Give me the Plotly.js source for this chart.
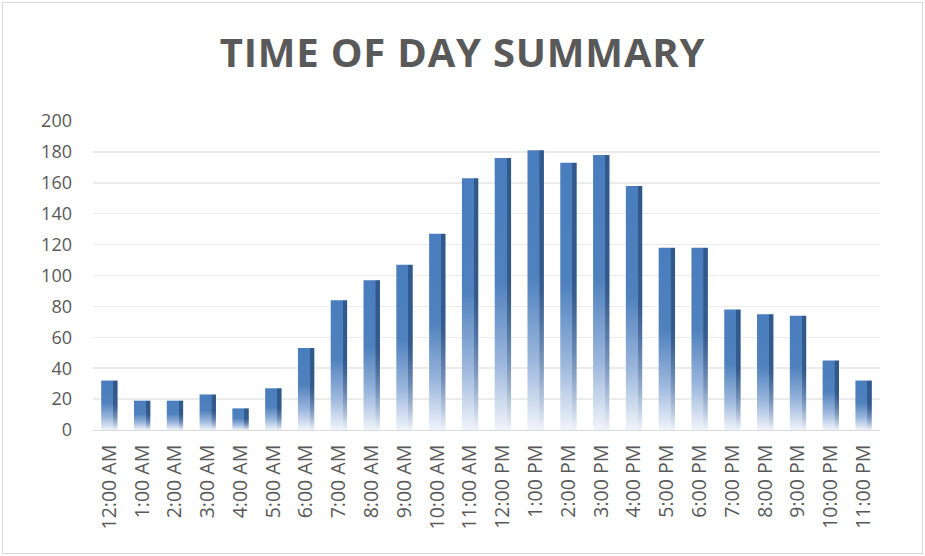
<!DOCTYPE html>
<html><head><meta charset="utf-8">
<script src="https://cdn.plot.ly/plotly-3.0.1.min.js"></script>
<style>
html,body{margin:0;padding:0;background:#fff;}
#frame{position:absolute;left:2px;top:2px;width:921px;height:552px;border:1px solid #d9d9d9;box-sizing:border-box;}
#chart{position:absolute;left:0;top:0;width:925px;height:556px;}
</style>
</head><body>
<div id="frame"></div>
<div id="chart"></div>
<script>
const categories = ["12:00 AM","1:00 AM","2:00 AM","3:00 AM","4:00 AM","5:00 AM","6:00 AM","7:00 AM","8:00 AM","9:00 AM","10:00 AM","11:00 AM","12:00 PM","1:00 PM","2:00 PM","3:00 PM","4:00 PM","5:00 PM","6:00 PM","7:00 PM","8:00 PM","9:00 PM","10:00 PM","11:00 PM"];
const counts = [32,19,19,23,14,27,53,84,97,107,127,163,176,181,173,178,158,118,118,78,75,74,45,32];
const yTicks = [0,20,40,60,80,100,120,140,160,180,200];

const trace = {
  type:'bar', x:categories, y:counts, width:0.5,
  marker:{color:'#4f81bd', line:{color:'#3a6599', width:0.5}},
  hoverinfo:'x+y'
};
const layout = {
  width:925, height:556,
  paper_bgcolor:'rgba(0,0,0,0)', plot_bgcolor:'rgba(0,0,0,0)',
  margin:{l:93, r:45, t:121, b:126},
  title:{text:'<b>TIME OF DAY SUMMARY</b>', x:0.5, xanchor:'center', y:0.905, yanchor:'middle',
    font:{family:'Open Sans', size:40, color:'#595959'}},
  xaxis:{type:'category', tickangle:-90, tickfont:{family:'Open Sans', size:19.5, color:'#595959'},
    showline:true, linecolor:'#d9d9d9', linewidth:1, ticks:'', showgrid:false, automargin:false, ticklabelstandoff:6},
  yaxis:{range:[0,200], tickvals:yTicks, tickfont:{family:'Open Sans', size:18, color:'#595959'},
    gridcolor:'#ebebeb', gridwidth:1.5, zeroline:false, showline:false, ticks:'', ticklabelstandoff:20, automargin:false},
  bargap:0.5, showlegend:false
};
Plotly.newPlot('chart',[trace],layout,{displayModeBar:false, staticPlot:true}).then(gd=>{
  const svg = gd.querySelector('svg.main-svg');
  const ns='http://www.w3.org/2000/svg';
  let defs = svg.querySelector('defs');
  function grad(id, horiz, stops){
    const lg = document.createElementNS(ns,'linearGradient');
    lg.setAttribute('id',id); lg.setAttribute('x1','0'); lg.setAttribute('y1','0');
    lg.setAttribute('x2',horiz?'1':'0'); lg.setAttribute('y2',horiz?'0':'1');
    stops.forEach(([o,c,a])=>{
      const s=document.createElementNS(ns,'stop'); s.setAttribute('offset',o); s.setAttribute('stop-color',c);
      s.setAttribute('stop-opacity', a===undefined?1:a); lg.appendChild(s);
    });
    defs.appendChild(lg);
  }
  grad('barGrad', false, [['0','#4a7dbd'],['0.45','#4f81bd'],['0.75','#9bb6dc'],['1','#f0f4fa']]);
  grad('sideGrad', true, [['0','#1f3d66',0],['0.72','#1f3d66',0],['0.74','#1f3d66',0.55],['1','#1f3d66',0.6]]);
  grad('fadeGrad', false, [['0','#fff'],['0.5','#fff'],['1','#000']]);
  const mask = document.createElementNS(ns,'mask');
  mask.setAttribute('id','fadeMask'); mask.setAttribute('maskContentUnits','objectBoundingBox');
  const r = document.createElementNS(ns,'rect');
  r.setAttribute('x','0'); r.setAttribute('y','0'); r.setAttribute('width','1'); r.setAttribute('height','1');
  r.setAttribute('fill','url(#fadeGrad)');
  mask.appendChild(r); defs.appendChild(mask);
  gd.querySelectorAll('.bars .point path').forEach(p=>{
    p.style.fill='url(#barGrad)'; p.style.fillOpacity=1; p.style.strokeWidth='0';
    const c = p.cloneNode(true);
    c.style.fill='url(#sideGrad)'; c.style.strokeWidth='0';
    c.setAttribute('mask','url(#fadeMask)');
    p.parentNode.appendChild(c);
  });
  const t = gd.querySelector('.gtitle');
  if(t){ t.style.letterSpacing='0.8px'; }
});
</script>
</body></html>
